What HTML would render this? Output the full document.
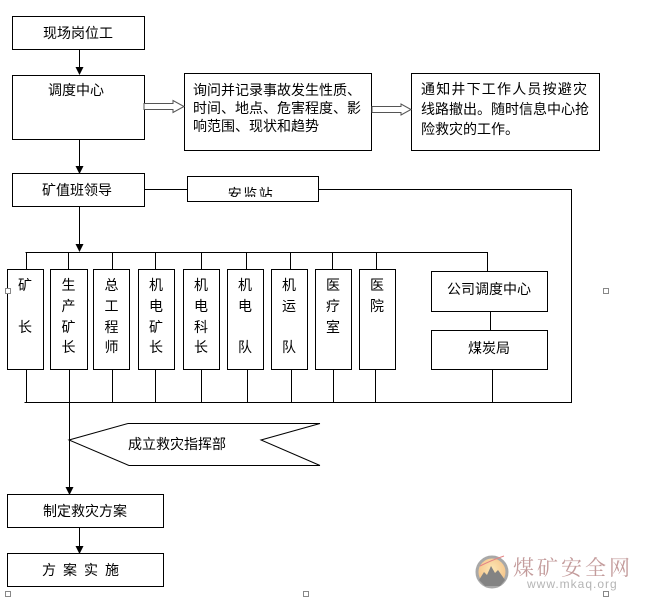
<!DOCTYPE html>
<html>
<head>
<meta charset="utf-8">
<style>
  html,body{margin:0;padding:0;background:#fff;}
  svg{display:block;}
  text{font-family:"Liberation Sans","Noto Sans CJK SC","WenQuanYi Zen Hei",sans-serif;font-size:14px;fill:#000;}
</style>
</head>
<body>
<svg width="648" height="600" viewBox="0 0 648 600" xmlns="http://www.w3.org/2000/svg">
  <defs>
    <radialGradient id="sun" cx="50%" cy="40%" r="60%">
      <stop offset="0%" stop-color="#fde3a8"/>
      <stop offset="100%" stop-color="#f2b46e"/>
    </radialGradient>
    <clipPath id="ajclip"><rect x="187" y="177" width="131" height="20"/></clipPath>
  </defs>
  <rect x="0" y="0" width="648" height="600" fill="#fff"/>

  <g stroke="#000" stroke-width="1" fill="none" shape-rendering="crispEdges">
    <!-- top boxes -->
    <rect x="12.5" y="16.5" width="132" height="33"/>
    <rect x="12.5" y="75.5" width="132" height="64"/>
    <rect x="184.5" y="73.5" width="187" height="77"/>
    <rect x="411.5" y="73.5" width="188" height="77"/>
    <rect x="12.5" y="173.5" width="132" height="33"/>
    <rect x="187.5" y="176.5" width="131" height="25"/>

    <!-- connectors top -->
    <line x1="79.5" y1="49" x2="79.5" y2="69"/>
    <line x1="79.5" y1="139" x2="79.5" y2="167"/>
    <line x1="144" y1="189.5" x2="187" y2="189.5"/>
    <line x1="318" y1="189.5" x2="571.5" y2="189.5"/>
    <line x1="571.5" y1="189" x2="571.5" y2="403"/>

    <!-- top bus -->
    <line x1="79.5" y1="206" x2="79.5" y2="245"/>
    <line x1="25.5" y1="252.5" x2="487.5" y2="252.5"/>
    <line x1="26.5" y1="252" x2="26.5" y2="269"/>
    <line x1="68.5" y1="252" x2="68.5" y2="269"/>
    <line x1="112.5" y1="252" x2="112.5" y2="269"/>
    <line x1="155.5" y1="252" x2="155.5" y2="269"/>
    <line x1="201.5" y1="252" x2="201.5" y2="269"/>
    <line x1="246.5" y1="252" x2="246.5" y2="269"/>
    <line x1="290.5" y1="252" x2="290.5" y2="269"/>
    <line x1="332.5" y1="252" x2="332.5" y2="269"/>
    <line x1="376.5" y1="252" x2="376.5" y2="269"/>
    <line x1="487.5" y1="252" x2="487.5" y2="271"/>

    <!-- vertical boxes -->
    <rect x="7.5" y="269.5" width="36" height="100"/>
    <rect x="50.5" y="269.5" width="37" height="100"/>
    <rect x="93.5" y="269.5" width="36" height="100"/>
    <rect x="138.5" y="269.5" width="36" height="100"/>
    <rect x="183.5" y="269.5" width="36" height="100"/>
    <rect x="227.5" y="269.5" width="36" height="100"/>
    <rect x="271.5" y="269.5" width="36" height="100"/>
    <rect x="315.5" y="269.5" width="36" height="100"/>
    <rect x="359.5" y="269.5" width="36" height="100"/>

    <rect x="431.5" y="271.5" width="116" height="40"/>
    <rect x="431.5" y="330.5" width="116" height="39"/>
    <line x1="490.5" y1="311" x2="490.5" y2="330"/>

    <!-- bottom drops -->
    <line x1="26.5" y1="369" x2="26.5" y2="402"/>
    <line x1="69.5" y1="369" x2="69.5" y2="402"/>
    <line x1="112.5" y1="369" x2="112.5" y2="402"/>
    <line x1="155.5" y1="369" x2="155.5" y2="402"/>
    <line x1="201.5" y1="369" x2="201.5" y2="402"/>
    <line x1="247.5" y1="369" x2="247.5" y2="402"/>
    <line x1="291.5" y1="369" x2="291.5" y2="402"/>
    <line x1="333.5" y1="369" x2="333.5" y2="402"/>
    <line x1="375.5" y1="369" x2="375.5" y2="402"/>
    <line x1="492.5" y1="369" x2="492.5" y2="402"/>
    <line x1="24.5" y1="402.5" x2="571.5" y2="402.5"/>

    <!-- down to 制定 -->
    <line x1="69.5" y1="402" x2="69.5" y2="488"/>

    <!-- bottom boxes -->
    <rect x="7.5" y="494.5" width="156" height="33"/>
    <line x1="79.5" y1="527" x2="79.5" y2="547"/>
    <rect x="7.5" y="553.5" width="156" height="33"/>
  </g>

  <!-- banner -->
  <g stroke="#000" stroke-width="1" fill="none">
    <polyline points="128,423.5 69,440 129,465.5"/>
    <line x1="128" y1="423.5" x2="320" y2="423.5"/>
    <line x1="129" y1="465.5" x2="320" y2="465.5"/>
    <polyline points="320,423.5 261,440 320,465.5"/>
  </g>

  <!-- arrowheads -->
  <g fill="#000">
    <polygon points="75.5,67 83.5,67 79.5,75"/>
    <polygon points="75.5,166 83.5,166 79.5,174"/>
    <polygon points="75.5,244 83.5,244 79.5,252"/>
    <polygon points="65.5,487 73.5,487 69.5,495"/>
    <polygon points="75.5,546 83.5,546 79.5,554"/>
  </g>

  <!-- hollow block arrows -->
  <g stroke="#555" stroke-width="1" fill="#fff">
    <polygon points="144,103.5 173,103.5 173,100.5 184,106.5 173,112.5 173,109.5 144,109.5"/>
    <polygon points="372,106.5 401,106.5 401,104 411,109.5 401,115 401,112.5 372,112.5"/>
  </g>

  <!-- small handle squares -->
  <g stroke="#888" stroke-width="1" fill="#fff" shape-rendering="crispEdges">
    <rect x="5.5" y="288.5" width="5" height="5"/>
    <rect x="603.5" y="288.5" width="5" height="5"/>
    <rect x="5.5" y="591.5" width="5" height="5"/>
    <rect x="303.5" y="591.5" width="5" height="5"/>
    <rect x="603.5" y="591.5" width="5" height="5"/>
  </g>

  <!-- texts -->
  <g dominant-baseline="central">
    <text x="78" y="33" text-anchor="middle">现场岗位工</text>
    <text x="76" y="90" text-anchor="middle">调度中心</text>
    <text x="77" y="190" text-anchor="middle">矿值班领导</text>

    <text x="193" y="90">询问并记录事故发生性质、</text>
    <text x="193" y="108">时间、地点、危害程度、影</text>
    <text x="193" y="126">响范围、现状和趋势</text>

    <text x="421" y="89" letter-spacing="1.2">通知井下工作人员按避灾</text>
    <text x="421" y="109">线路撤出。随时信息中心抢</text>
    <text x="421" y="129">险救灾的工作。</text>

    <g clip-path="url(#ajclip)">
      <text x="251" y="194" text-anchor="middle" letter-spacing="1.5">安监站</text>
    </g>

    <!-- vertical box labels -->
    <g text-anchor="middle">
      <text x="25" y="285">矿</text>
      <text x="25" y="327">长</text>

      <text x="68.5" y="285">生</text>
      <text x="68.5" y="306">产</text>
      <text x="68.5" y="327">矿</text>
      <text x="68.5" y="347">长</text>

      <text x="111.5" y="285">总</text>
      <text x="111.5" y="306">工</text>
      <text x="111.5" y="327">程</text>
      <text x="111.5" y="347">师</text>

      <text x="156" y="285">机</text>
      <text x="156" y="306">电</text>
      <text x="156" y="327">矿</text>
      <text x="156" y="347">长</text>

      <text x="201" y="285">机</text>
      <text x="201" y="306">电</text>
      <text x="201" y="327">科</text>
      <text x="201" y="347">长</text>

      <text x="245" y="285">机</text>
      <text x="245" y="306">电</text>
      <text x="245" y="347">队</text>

      <text x="289" y="285">机</text>
      <text x="289" y="306">运</text>
      <text x="289" y="347">队</text>

      <text x="333" y="285">医</text>
      <text x="333" y="306">疗</text>
      <text x="333" y="327">室</text>

      <text x="377" y="285">医</text>
      <text x="377" y="306">院</text>

      <text x="489" y="289">公司调度中心</text>
      <text x="489" y="348">煤炭局</text>

      <text x="177" y="444">成立救灾指挥部</text>
      <text x="85" y="511">制定救灾方案</text>
      <text x="84" y="570" letter-spacing="7">方案实施</text>
    </g>
  </g>

  <!-- watermark -->
  <g opacity="0.85">
    <circle cx="492" cy="572" r="15" fill="url(#sun)" stroke="#9a9a9a" stroke-width="3"/>
    <path d="M480,566 Q492,560 504,556" stroke="#e07070" stroke-width="1" fill="none"/>
    <polygon points="479,580 484,572 487,575 491,566 495,573 498,570 505,580 500,586 485,586" fill="#6e6e6e"/>
    <text x="513" y="568" dominant-baseline="central" style="font-size:21px;fill:#b98a8a;font-family:'Liberation Serif','Noto Serif CJK SC',serif;" letter-spacing="3">煤矿安全网</text>
    <text x="527" y="584" dominant-baseline="central" style="font-size:12px;fill:#a8a8a8;" letter-spacing="1">www.mkaq.org</text>
  </g>
</svg>
</body>
</html>
